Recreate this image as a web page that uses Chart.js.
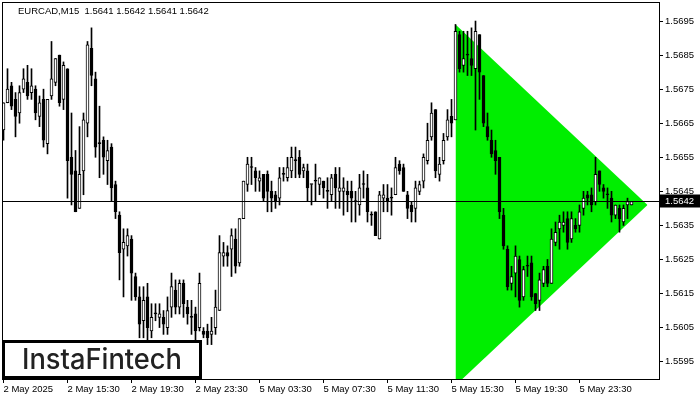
<!DOCTYPE html>
<html>
<head>
<meta charset="utf-8">
<script src="https://cdn.jsdelivr.net/npm/chart.js@4.4.1/dist/chart.umd.min.js"></script>
<style>
	html, body { margin: 0; padding: 0; background: #fff; }
	#wrap { width: 700px; height: 400px; position: relative; }
</style>
</head>
<body>
<div id="wrap"><canvas id="chart"></canvas></div>
<script>
const symbol = "EURCAD,M15";
const brand = "InstaFintech";

// one label every 16 bars (4 hours of M15)
const timeLabels = [
	"2 May 2025", "2 May 15:30", "2 May 19:30", "2 May 23:30", "5 May 03:30",
	"5 May 07:30", "5 May 11:30", "5 May 15:30", "5 May 19:30", "5 May 23:30",
];
const labelStep = 16;

const priceTicks = [
	1.5595, 1.5605, 1.5615, 1.5625, 1.5635, 1.5645, 1.5655, 1.5665, 1.5675, 1.5685, 1.5695,
];

const open = [
	1.5663, 1.5671, 1.5676, 1.5672, 1.5668, 1.5675, 1.5677, 1.5674, 1.5675, 1.5667,
	1.5672, 1.5659, 1.5673, 1.5677, 1.5685, 1.5672, 1.5681, 1.5655, 1.5651, 1.5640,
	1.5651, 1.5665, 1.5687, 1.5678, 1.5659, 1.5660, 1.5654, 1.5658, 1.5647, 1.5638,
	1.5628, 1.5629, 1.5631, 1.5620, 1.5614, 1.5607, 1.5614, 1.5604, 1.5609, 1.5608,
	1.5608, 1.5605, 1.5611, 1.5616, 1.5611, 1.5618, 1.5611, 1.5608, 1.5609, 1.5605,
	1.5604, 1.5604, 1.5603, 1.5605, 1.5610, 1.5626, 1.5627, 1.5628, 1.5631, 1.5624,
	1.5637, 1.5647, 1.5652, 1.5651, 1.5648, 1.5650, 1.5650, 1.5645, 1.5644, 1.5643,
	1.5650, 1.5649, 1.5651, 1.5654, 1.5655, 1.5651, 1.5651, 1.5647, 1.5648, 1.5647,
	1.5648, 1.5645, 1.5644, 1.5650, 1.5645, 1.5645, 1.5645, 1.5645, 1.5642, 1.5641,
	1.5647, 1.5646, 1.5638, 1.5639, 1.5631, 1.5643, 1.5643, 1.5643, 1.5644, 1.5653,
	1.5652, 1.5644, 1.5641, 1.5640, 1.5645, 1.5648, 1.5654, 1.5661, 1.5669, 1.5650,
	1.5654, 1.5661, 1.5667, 1.5666, 1.5691, 1.5682, 1.5685, 1.5684, 1.5681, 1.5691,
	1.5679, 1.5664, 1.5660, 1.5657, 1.5655, 1.5638, 1.5628, 1.5618, 1.5621, 1.5625,
	1.5614, 1.5623, 1.5624, 1.5615, 1.5613, 1.5618, 1.5623, 1.5618, 1.5630, 1.5634,
	1.5635, 1.5637, 1.5631, 1.5635, 1.5635, 1.5640, 1.5644, 1.5644, 1.5642, 1.5651,
	1.5646, 1.5644, 1.5643, 1.5638, 1.5640, 1.5636, 1.5641, 1.5641,
];
const high = [
	1.5671, 1.5681, 1.5677, 1.5674, 1.5676, 1.5681, 1.5682, 1.5681, 1.5676, 1.5673,
	1.5675, 1.5672, 1.5689, 1.5684, 1.5685, 1.5683, 1.5681, 1.5668, 1.5657, 1.5664,
	1.5668, 1.5689, 1.5693, 1.5680, 1.5670, 1.5661, 1.5660, 1.5659, 1.5648, 1.5639,
	1.5634, 1.5634, 1.5632, 1.5621, 1.5617, 1.5617, 1.5618, 1.5612, 1.5612, 1.5612,
	1.5610, 1.5614, 1.5621, 1.5619, 1.5619, 1.5619, 1.5613, 1.5613, 1.5611, 1.5621,
	1.5605, 1.5606, 1.5608, 1.5616, 1.5632, 1.5630, 1.5629, 1.5634, 1.5634, 1.5637,
	1.5648, 1.5655, 1.5655, 1.5652, 1.5651, 1.5650, 1.5651, 1.5648, 1.5645, 1.5652,
	1.5652, 1.5655, 1.5658, 1.5658, 1.5657, 1.5653, 1.5653, 1.5647, 1.5653, 1.5649,
	1.5648, 1.5649, 1.5650, 1.5652, 1.5652, 1.5649, 1.5648, 1.5648, 1.5645, 1.5650,
	1.5651, 1.5650, 1.5639, 1.5639, 1.5645, 1.5647, 1.5647, 1.5646, 1.5655, 1.5654,
	1.5653, 1.5645, 1.5642, 1.5648, 1.5648, 1.5656, 1.5665, 1.5671, 1.5669, 1.5655,
	1.5662, 1.5669, 1.5672, 1.5694, 1.5692, 1.5692, 1.5692, 1.5693, 1.5695, 1.5691,
	1.5679, 1.5668, 1.5663, 1.5660, 1.5655, 1.5640, 1.5629, 1.5623, 1.5629, 1.5626,
	1.5623, 1.5626, 1.5626, 1.5615, 1.5621, 1.5623, 1.5625, 1.5634, 1.5636, 1.5638,
	1.5639, 1.5639, 1.5639, 1.5637, 1.5641, 1.5645, 1.5645, 1.5646, 1.5655, 1.5651,
	1.5647, 1.5646, 1.5645, 1.5641, 1.5641, 1.5641, 1.5643, 1.5642,
];
const low = [
	1.5660, 1.5671, 1.5669, 1.5661, 1.5665, 1.5674, 1.5672, 1.5672, 1.5666, 1.5664,
	1.5658, 1.5656, 1.5672, 1.5676, 1.5670, 1.5669, 1.5643, 1.5641, 1.5639, 1.5640,
	1.5644, 1.5661, 1.5676, 1.5655, 1.5649, 1.5650, 1.5647, 1.5642, 1.5637, 1.5619,
	1.5614, 1.5626, 1.5613, 1.5613, 1.5602, 1.5602, 1.5601, 1.5602, 1.5607, 1.5605,
	1.5603, 1.5603, 1.5608, 1.5609, 1.5609, 1.5608, 1.5606, 1.5603, 1.5601, 1.5604,
	1.5602, 1.5600, 1.5600, 1.5603, 1.5610, 1.5623, 1.5623, 1.5620, 1.5621, 1.5623,
	1.5637, 1.5645, 1.5647, 1.5645, 1.5645, 1.5642, 1.5639, 1.5639, 1.5640, 1.5641,
	1.5648, 1.5648, 1.5649, 1.5649, 1.5649, 1.5649, 1.5642, 1.5641, 1.5642, 1.5644,
	1.5643, 1.5640, 1.5642, 1.5640, 1.5640, 1.5638, 1.5639, 1.5636, 1.5636, 1.5638,
	1.5643, 1.5636, 1.5635, 1.5632, 1.5631, 1.5639, 1.5639, 1.5638, 1.5644, 1.5650,
	1.5645, 1.5637, 1.5636, 1.5636, 1.5644, 1.5646, 1.5653, 1.5660, 1.5649, 1.5648,
	1.5653, 1.5660, 1.5661, 1.5666, 1.5680, 1.5680, 1.5679, 1.5679, 1.5663, 1.5672,
	1.5664, 1.5660, 1.5655, 1.5650, 1.5637, 1.5628, 1.5616, 1.5616, 1.5614, 1.5611,
	1.5613, 1.5620, 1.5613, 1.5610, 1.5610, 1.5617, 1.5617, 1.5618, 1.5629, 1.5628,
	1.5633, 1.5628, 1.5630, 1.5633, 1.5633, 1.5638, 1.5641, 1.5639, 1.5641, 1.5645,
	1.5643, 1.5640, 1.5636, 1.5637, 1.5633, 1.5635, 1.5637, 1.5641,
];
const close = [
	1.5671, 1.5675, 1.5670, 1.5667, 1.5674, 1.5678, 1.5673, 1.5676, 1.5668, 1.5671,
	1.5660, 1.5672, 1.5678, 1.5684, 1.5671, 1.5682, 1.5654, 1.5650, 1.5639, 1.5650,
	1.5666, 1.5688, 1.5679, 1.5658, 1.5659, 1.5655, 1.5657, 1.5646, 1.5639, 1.5627,
	1.5630, 1.5632, 1.5621, 1.5614, 1.5606, 1.5613, 1.5605, 1.5608, 1.5609, 1.5609,
	1.5606, 1.5610, 1.5617, 1.5611, 1.5618, 1.5612, 1.5609, 1.5608, 1.5604, 1.5618,
	1.5603, 1.5602, 1.5604, 1.5611, 1.5627, 1.5627, 1.5626, 1.5632, 1.5623, 1.5637,
	1.5648, 1.5653, 1.5652, 1.5649, 1.5649, 1.5643, 1.5645, 1.5643, 1.5642, 1.5649,
	1.5650, 1.5652, 1.5655, 1.5654, 1.5650, 1.5652, 1.5646, 1.5647, 1.5648, 1.5649,
	1.5646, 1.5645, 1.5649, 1.5646, 1.5646, 1.5646, 1.5644, 1.5643, 1.5642, 1.5646,
	1.5647, 1.5639, 1.5638, 1.5632, 1.5644, 1.5644, 1.5642, 1.5643, 1.5652, 1.5651,
	1.5645, 1.5640, 1.5639, 1.5646, 1.5647, 1.5655, 1.5660, 1.5668, 1.5651, 1.5653,
	1.5660, 1.5666, 1.5665, 1.5692, 1.5681, 1.5684, 1.5685, 1.5682, 1.5692, 1.5680,
	1.5665, 1.5661, 1.5656, 1.5654, 1.5639, 1.5629, 1.5617, 1.5620, 1.5626, 1.5613,
	1.5622, 1.5623, 1.5614, 1.5612, 1.5619, 1.5622, 1.5618, 1.5631, 1.5633, 1.5636,
	1.5636, 1.5630, 1.5637, 1.5634, 1.5639, 1.5643, 1.5643, 1.5641, 1.5650, 1.5647,
	1.5645, 1.5644, 1.5638, 1.5641, 1.5637, 1.5640, 1.5642, 1.5642,
];

// symmetrical triangle: bar index / price of its three corners
const triangleUpper = [{ x: 113, y: 1.5694 }, { x: 161, y: 1.5641 }];
const triangleLower = [{ x: 113, y: 1.5588 }, { x: 161, y: 1.5641 }];

const triangleColor = "#00ee00";
const font = "Liberation Sans";

const last = close.length - 1;
const lastPrice = close[last];

const wicks = low.map((l, i) => ({ x: i, y: [l, high[i]] }));
const bodies = open.map((o, i) => ({ x: i, y: [o, close[i]] }));
const bodyColors = open.map((o, i) => (close[i] > o ? "#ffffff" : "#000000"));

const overlay = {
	id: "overlay",
	afterDatasetsDraw(chart) {
		const { ctx, chartArea, scales } = chart;
		const y = Math.floor(scales.y.getPixelForValue(lastPrice)) + 0.5;
		ctx.save();
		ctx.strokeStyle = "#000";
		ctx.lineWidth = 1;
		ctx.beginPath();
		ctx.moveTo(chartArea.left, y);
		ctx.lineTo(chartArea.right, y);
		ctx.stroke();
		ctx.restore();
	},
	afterDraw(chart) {
		const { ctx, chartArea, scales } = chart;
		ctx.save();

		// frame
		ctx.strokeStyle = "#000";
		ctx.lineWidth = 1;
		ctx.strokeRect(chartArea.left - 0.5, chartArea.top - 0.5, chartArea.right - chartArea.left + 1, chartArea.bottom - chartArea.top + 1);

		// current price tag
		const y = Math.floor(scales.y.getPixelForValue(lastPrice)) + 0.5;
		ctx.fillStyle = "#000";
		ctx.fillRect(chartArea.right + 1, y - 7, 40, 13);
		ctx.fillStyle = "#fff";
		ctx.font = `9.5px "${font}"`;
		ctx.textBaseline = "middle";
		ctx.fillText(lastPrice.toFixed(4), chartArea.right + 6, y);

		// title
		ctx.fillStyle = "#000";
		ctx.textBaseline = "alphabetic";
		const ohlc = [open[last], high[last], low[last], close[last]].map((v) => v.toFixed(4)).join(" ");
		ctx.fillText(`${symbol}  ${ohlc}`, 18, 14);

		// logo box
		ctx.fillStyle = "#fff";
		ctx.fillRect(3, 341, 198, 37);
		ctx.lineWidth = 3;
		ctx.strokeStyle = "#000";
		ctx.strokeRect(3.5, 341.5, 197, 36);
		ctx.fillStyle = "#222";
		ctx.font = `500 28px "Inter"`;
		ctx.textBaseline = "alphabetic";
		ctx.fillText(brand, 22, 369, 160);

		ctx.restore();
	},
};

new Chart(document.getElementById("chart"), {
	type: "bar",
	data: {
		datasets: [
			{
				type: "line",
				data: triangleLower,
				borderWidth: 0,
				pointRadius: 0,
				fill: false,
				order: 3,
			},
			{
				type: "line",
				data: triangleUpper,
				borderWidth: 0,
				pointRadius: 0,
				fill: "-1",
				backgroundColor: triangleColor,
				order: 3,
			},
			{
				data: wicks,
				backgroundColor: "#000",
				barThickness: 1,
				grouped: false,
				order: 2,
			},
			{
				data: bodies,
				backgroundColor: bodyColors,
				borderColor: "#000",
				borderWidth: 1,
				borderSkipped: false,
				barThickness: 3,
				minBarLength: 1,
				grouped: false,
				order: 1,
			},
		],
	},
	options: {
		responsive: true,
		maintainAspectRatio: false,
		devicePixelRatio: 1,
		animation: false,
		layout: { padding: { left: 3, top: 3, right: 0, bottom: 0 } },
		plugins: {
			legend: { display: false },
			tooltip: { enabled: false },
		},
		scales: {
			x: {
				type: "linear",
				position: "bottom",
				min: -0.125,
				max: 163.875,
				offset: false,
				afterBuildTicks: (axis) => {
					axis.ticks = timeLabels.map((_, k) => ({ value: k * labelStep }));
				},
				afterFit: (axis) => {
					axis.height = 21;
					axis.paddingLeft = 0;
					axis.paddingRight = 0;
				},
				ticks: {
					autoSkip: false,
					maxRotation: 0,
					minRotation: 0,
					align: "start",
					padding: 1,
					color: "#000",
					font: { family: font, size: 9.5 },
					callback: (v, i) => timeLabels[i],
				},
				grid: {
					drawOnChartArea: false,
					tickLength: 4,
					color: "#000",
					offset: false,
				},
				border: { display: false },
			},
			y: {
				type: "linear",
				position: "right",
				min: 1.55899,
				max: 1.57003,
				afterBuildTicks: (axis) => {
					axis.ticks = priceTicks.map((v) => ({ value: v }));
				},
				afterFit: (axis) => {
					axis.width = 41;
					axis.paddingTop = 0;
					axis.paddingBottom = 0;
				},
				ticks: {
					color: "#000",
					padding: 2,
					crossAlign: "near",
					font: { family: font, size: 9.5 },
					callback: (v) => v.toFixed(4),
				},
				grid: {
					drawOnChartArea: false,
					tickLength: 4,
					color: "#000",
				},
				border: { display: false },
			},
		},
	},
	plugins: [overlay],
});
</script>
</body>
</html>
